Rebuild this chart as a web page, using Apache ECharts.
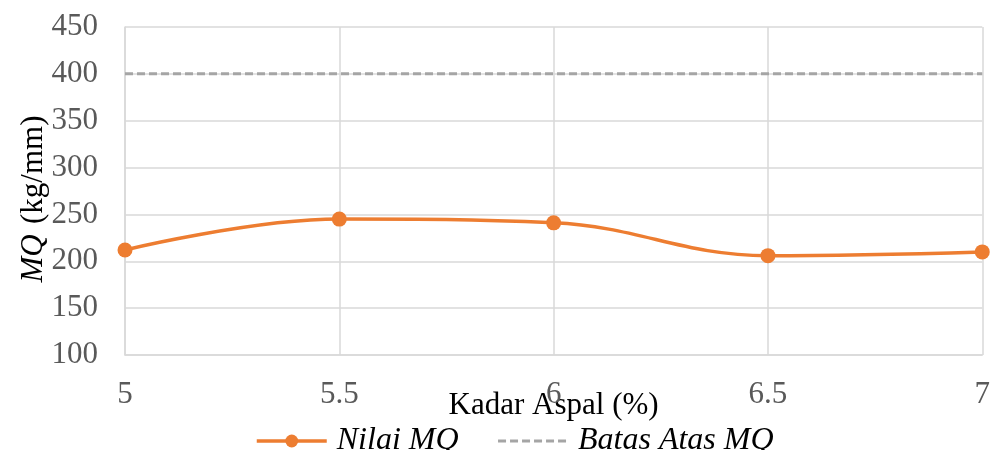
<!DOCTYPE html>
<html><head><meta charset="utf-8">
<script src="https://cdn.jsdelivr.net/npm/echarts@6/dist/echarts.min.js"></script>
<style>html,body{margin:0;padding:0;background:#fff}#c{width:993px;height:450px}</style>
</head><body><div id="c"></div>
<script>
const kadar = [5, 5.5, 6, 6.5, 7];
const nilaiMQ = [212, 245, 241, 206, 210];
const batasAtas = [400, 400];
const batasX = [5, 7];
const yMin = 100, yMax = 450, yStep = 50;

const F = '"Liberation Serif", "Times New Roman", serif';
const FS = 31;
const chart = echarts.init(document.getElementById('c'));
chart.setOption({
  animation: false,
  backgroundColor: '#fff',
  grid: { left: 125, right: 6, top: 27, bottom: 95, containLabel: false },
  xAxis: {
    type: 'value', min: 5, max: 7, interval: 0.5,
    name: 'Kadar Aspal (%)', nameLocation: 'middle', nameGap: 35, nameMoveOverlap: false,
    nameTextStyle: { fontFamily: F, fontSize: FS, color: '#000' },
    axisLine: { show: true, lineStyle: { color: '#d9d9d9', width: 1.5 } },
    axisTick: { show: false },
    axisLabel: { fontFamily: F, fontSize: FS, color: '#595959', margin: 24 },
    splitLine: { show: true, lineStyle: { color: '#d9d9d9', width: 1.5 } }
  },
  yAxis: {
    type: 'value', min: yMin, max: yMax, interval: yStep,
    name: '{i|MQ} {n|(kg/mm)}', nameLocation: 'middle', nameGap: 76, nameRotate: 90, nameMoveOverlap: false,
    nameTextStyle: { padding: [0, 16, 0, 0], rich: {
      i: { fontFamily: F, fontSize: FS, fontStyle: 'italic', color: '#000' },
      n: { fontFamily: F, fontSize: FS, color: '#000', padding: [0, 0, 0, 7] } } },
    axisLine: { show: true, lineStyle: { color: '#d9d9d9', width: 1.5 } },
    axisTick: { show: false },
    axisLabel: { fontFamily: F, fontSize: FS, color: '#595959', margin: 27 },
    splitLine: { show: true, lineStyle: { color: '#d9d9d9', width: 1.5 } }
  },
  legend: {
    top: 420, left: 250, itemWidth: 70, itemHeight: 16, itemGap: 38,
    textStyle: { fontFamily: F, fontSize: 32, fontStyle: 'italic', color: '#000', padding: [0, 0, 0, 5] },
    data: [
      { name: 'Nilai MQ', lineStyle: { width: 3.5 } },
      { name: 'Batas Atas MQ', itemStyle: { opacity: 0 }, lineStyle: { width: 3 } }
    ]
  },
  series: [
    {
      name: 'Batas Atas MQ', type: 'line', symbol: 'none',
      data: batasX.map((x, i) => [x, batasAtas[i]]),
      lineStyle: { color: '#A5A5A5', width: 3, type: [8, 4] },
      itemStyle: { color: '#A5A5A5' }
    },
    {
      name: 'Nilai MQ', type: 'line', smooth: 0.4, symbol: 'circle', symbolSize: 15,
      data: kadar.map((x, i) => [x, nilaiMQ[i]]),
      lineStyle: { color: '#ED7D31', width: 3.5 },
      itemStyle: { color: '#ED7D31' }
    }
  ]
});
</script></body></html>
